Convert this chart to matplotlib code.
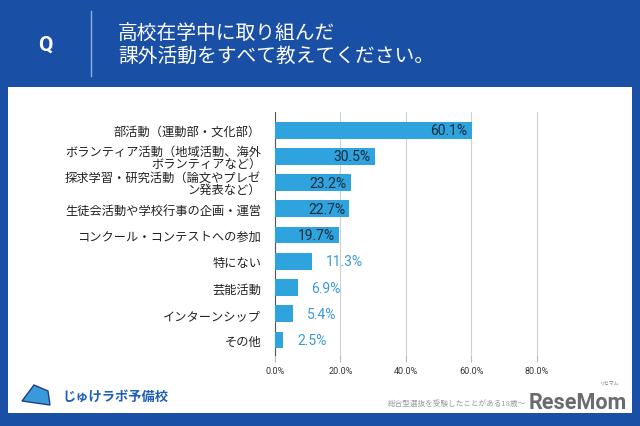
import matplotlib.pyplot as plt
import matplotlib.patches as patches

plt.rcParams['font.family'] = ['Noto Sans CJK JP', 'DejaVu Sans']

categories = [
    '部活動（運動部・文化部）',
    'ボランティア活動（地域活動、海外\nボランティアなど）',
    '探求学習・研究活動（論文やプレゼ\nン発表など）',
    '生徒会活動や学校行事の企画・運営',
    'コンクール・コンテストへの参加',
    '特にない',
    '芸能活動',
    'インターンシップ',
    'その他',
]
values = [60.1, 30.5, 23.2, 22.7, 19.7, 11.3, 6.9, 5.4, 2.5]
xticks = [0, 20, 40, 60, 80]

W, H = 640, 427
blue = '#1a4fa6'
bar_color = '#2ea3de'

fig = plt.figure(figsize=(6.4, 4.27), dpi=100)
fig.patch.set_facecolor(blue)

# white panel
fig.add_artist(patches.Rectangle((8 / W, 1 - 414 / H), 624 / W, 326 / H,
                                 transform=fig.transFigure, facecolor='white',
                                 edgecolor='none', zorder=0))

# header
fig.text(45 / W, 1 - 45 / H, 'Q', color='white', fontsize=15, fontweight='bold',
         ha='center', va='center', family='Roboto')
fig.add_artist(plt.Line2D([91 / W, 91 / W], [1 - 12 / H, 1 - 77 / H],
                          transform=fig.transFigure, color='#8fb0e0', lw=1))
fig.text(118 / W, 1 - 33 / H, '高校在学中に取り組んだ', color='white', fontsize=14.2,
         ha='left', va='center')
fig.text(118 / W, 1 - 56 / H, '課外活動をすべて教えてください。', color='white', fontsize=14.2,
         ha='left', va='center')

# chart
ax = fig.add_axes([275 / W, 1 - 355.5 / H, (569.5 - 275) / W, 242.5 / H])
ax.set_facecolor('none')
y = list(range(len(categories)))
bars = ax.barh(y, values, height=0.64, color=bar_color, zorder=3)
ax.set_xlim(0, 90)
ax.set_ylim(8.55, -0.69)
ax.set_yticks(y)
ax.set_yticklabels(categories, fontsize=8.8, color='#222222', linespacing=0.92)
ax.tick_params(axis='y', length=0, pad=10)
ax.set_xticks(xticks)
ax.set_xticklabels([f'{t:.1f}%' for t in xticks], fontsize=6.5, color='#333333',
                   family='Roboto')
ax.tick_params(axis='x', length=5, color='#bbbbbb', pad=3)
ax.grid(axis='x', color='#d0d0d0', lw=0.8, zorder=0)
for s in ['top', 'right', 'bottom']:
    ax.spines[s].set_visible(False)
ax.spines['left'].set_color('#555555')
ax.spines['left'].set_linewidth(0.8)

for bar, v in zip(bars, values):
    yc = bar.get_y() + bar.get_height() / 2
    if v >= 15:
        ax.annotate(f'{v:.1f}%', (v, yc), xytext=(-3, 0), textcoords='offset points',
                    ha='right', va='center', fontsize=10, color='#1c2b3a',
                    family='Roboto', zorder=4)
    else:
        ax.annotate(f'{v:.1f}%', (v, yc), xytext=(10, 0), textcoords='offset points',
                    ha='left', va='center', fontsize=10, color='#3a9ad9',
                    family='Roboto', zorder=4)

# footer
fig.text(62 / W, 1 - 397 / H, 'じゅけラボ予備校', color='#1d5fb5', fontsize=9.5,
         fontweight='bold', ha='left', va='center')
fig.add_artist(patches.Polygon([(22 / W, 1 - 402 / H), (34 / W, 1 - 386 / H),
                                (48 / W, 1 - 392 / H), (50 / W, 1 - 406 / H)],
                               closed=True, transform=fig.transFigure,
                               facecolor='#3a9ad9', edgecolor='#1d3f8a', lw=1))
fig.text(388 / W, 1 - 404 / H, '総合型選抜を受験したことがある18歳～', color='#999999',
         fontsize=5.5, ha='left', va='center')
fig.text(529 / W, 1 - 403 / H, 'ReseMom', color='#6b6b6b', fontsize=15.5,
         fontweight='bold', ha='left', va='center', family='Roboto')
fig.text(610 / W, 1 - 383 / H, 'リセマム', color='#777777', fontsize=3.5,
         ha='center', va='center')

fig.savefig('out.png', dpi=100)
